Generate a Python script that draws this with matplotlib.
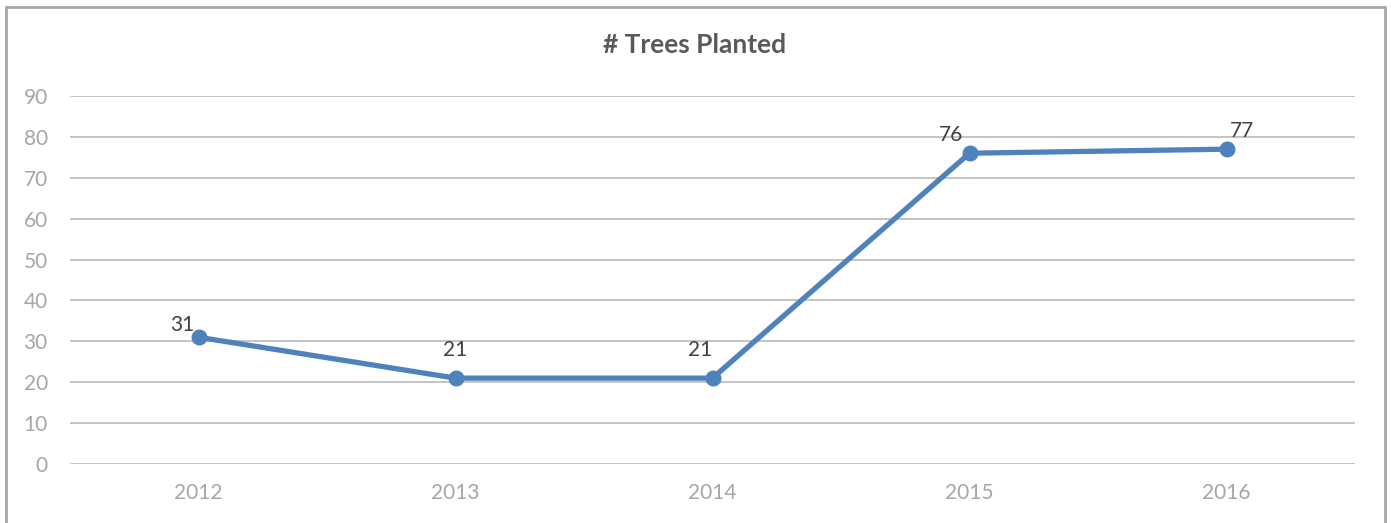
import matplotlib.pyplot as plt
from matplotlib.patches import Rectangle

years = ['2012', '2013', '2014', '2015', '2016']
trees = [31, 21, 21, 76, 77]
# label offsets in points (dx, dy)
label_offsets = [(-12, 9), (0, 20), (-9, 20), (-13, 13), (11, 13)]

plt.rcParams['font.family'] = ['Lato', 'DejaVu Sans']

fig = plt.figure(figsize=(13.91, 5.23), dpi=100)
ax = fig.add_axes([70 / 1391, 1 - 464 / 523, 1285 / 1391, 368 / 523])

x = list(range(len(years)))
ax.plot(x, trees, color='#4F81BD', linewidth=3.8, marker='o', markersize=10.5,
        solid_capstyle='round', zorder=3)

for xi, v, (dx, dy) in zip(x, trees, label_offsets):
    ax.annotate(str(v), (xi, v), xytext=(dx, dy), textcoords='offset points',
                ha='center', va='center', fontsize=15, color='#404040')

ax.set_xlim(-0.5, len(years) - 0.5)
ax.set_ylim(0, 90)
ax.set_yticks(range(0, 91, 10))
ax.set_xticks(x)
ax.set_xticklabels(years)
ax.grid(axis='y', color='#BFBFBF', linewidth=1.3)
ax.set_axisbelow(True)
for s in ax.spines.values():
    s.set_visible(False)
ax.tick_params(length=0, colors='#A6A6A6', labelsize=15)
ax.tick_params(axis='y', pad=16)
ax.tick_params(axis='x', pad=14)

fig.text(695 / 1391, 1 - 45 / 523, '# Trees Planted', ha='center', va='center',
         fontsize=19, fontweight='bold', color='#595959')

# chart border
fig.patches.append(Rectangle((6 / 1391, -0.05), 1379 / 1391, 1 - 7 / 523 + 0.05,
                             transform=fig.transFigure, fill=False,
                             edgecolor='#A6A6A6', linewidth=2))

fig.savefig('out.png', dpi=100)
